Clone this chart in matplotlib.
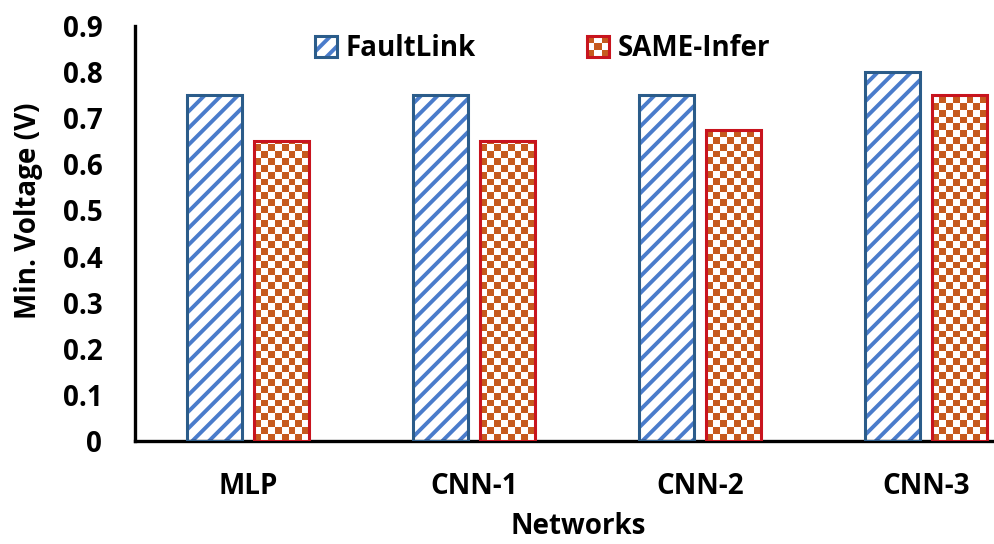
import numpy as np
import matplotlib
matplotlib.use("Agg")
import matplotlib.pyplot as plt
from matplotlib.patches import Patch, Rectangle
from matplotlib.colors import ListedColormap
from matplotlib.legend_handler import HandlerBase

categories = ["MLP", "CNN-1", "CNN-2", "CNN-3"]
faultlink = [0.75, 0.75, 0.75, 0.80]
same_infer = [0.65, 0.65, 0.675, 0.75]
series_names = ["FaultLink", "SAME-Infer"]
yticks = [0, 0.1, 0.2, 0.3, 0.4, 0.5, 0.6, 0.7, 0.8, 0.9]
ytick_labels = ["0", "0.1", "0.2", "0.3", "0.4", "0.5", "0.6", "0.7", "0.8", "0.9"]

FONT = ["Open Sans", "DejaVu Sans"]
plt.rcParams["font.family"] = FONT
plt.rcParams["font.weight"] = "bold"
plt.rcParams["hatch.linewidth"] = 2.8

STRIPE = "#4A7CCB"
BLUE_EDGE = "#2B5C8A"
RED_EDGE = "#C8141E"
ORANGE = "#C65A1E"
FS = 20

fig = plt.figure(figsize=(9.94, 5.44), dpi=100)
ax = fig.add_axes([135 / 994, 103 / 544, 859 / 994, 415 / 544])

x = np.arange(len(categories))
w = 0.243
off = 0.149

ax.set_xlim(-0.5, 3.30)
ax.set_ylim(0, 0.9)

# FaultLink: diagonal stripes
ax.bar(x - off, faultlink, w, facecolor="white", edgecolor=STRIPE, hatch="//", linewidth=0, zorder=2)
ax.bar(x - off, faultlink, w, facecolor="none", edgecolor=BLUE_EDGE, linewidth=2.2, zorder=4)

# SAME-Infer: checkerboard
bars2 = ax.bar(x + off, same_infer, w, facecolor="white", edgecolor="none", linewidth=0, zorder=2)
ax.bar(x + off, same_infer, w, facecolor="none", edgecolor=RED_EDGE, linewidth=2.2, zorder=4)

ax_w_px = 859
ax_h_px = 415
dx_per_px = (ax.get_xlim()[1] - ax.get_xlim()[0]) / ax_w_px
dy_per_px = (ax.get_ylim()[1] - ax.get_ylim()[0]) / ax_h_px
sq = 6.9
cmap = ListedColormap(["white", ORANGE])
for b in bars2:
    x0, y0 = b.get_x(), b.get_y()
    bw, bh = b.get_width(), b.get_height()
    nx = int(np.ceil(bw / (sq * dx_per_px)))
    ny = int(np.ceil(bh / (sq * dy_per_px)))
    ii, jj = np.indices((ny, nx))
    arr = ((ii + jj) % 2 == 0).astype(float)
    im = ax.imshow(arr, cmap=cmap, vmin=0, vmax=1, origin="lower", aspect="auto",
                   interpolation="nearest",
                   extent=[x0, x0 + nx * sq * dx_per_px, y0, y0 + ny * sq * dy_per_px],
                   zorder=3)
    im.set_clip_path(b)

ax.set_xlim(-0.5, 3.30)
ax.set_ylim(0, 0.9)

ax.set_xticks(x)
ax.set_xticklabels(categories, fontsize=FS, fontweight="bold")
ax.set_yticks(yticks)
ax.set_yticklabels(ytick_labels, fontsize=FS, fontweight="bold")
ax.tick_params(axis="both", length=0)
ax.tick_params(axis="y", pad=23.5)
ax.tick_params(axis="x", pad=22)

for s in ["top", "right"]:
    ax.spines[s].set_visible(False)
for s in ["left", "bottom"]:
    ax.spines[s].set_linewidth(2.4)
    ax.spines[s].set_color("black")

ax.set_ylabel("Min. Voltage (V)", fontsize=FS, fontweight="bold")
ax.yaxis.set_label_coords(-0.107, 0.554)
ax.set_xlabel("Networks", fontsize=FS, fontweight="bold")
ax.xaxis.set_label_coords(0.516, -0.172)


class HandlerChecker(HandlerBase):
    def create_artists(self, legend, orig_handle, xdescent, ydescent, width, height, fontsize, trans):
        arts = []
        s = min(width, height)
        x0 = -xdescent + (width - s) / 2
        y0 = -ydescent + (height - s) / 2
        n = 3
        c = s / n
        for i in range(n):
            for j in range(n):
                col = ORANGE if (i + j) % 2 == 0 else "white"
                arts.append(Rectangle((x0 + i * c, y0 + j * c), c, c, facecolor=col,
                                      edgecolor="none", transform=trans))
        arts.append(Rectangle((x0, y0), s, s, facecolor="none", edgecolor=RED_EDGE,
                              linewidth=2.2, transform=trans))
        return arts


class HandlerStripe(HandlerBase):
    def create_artists(self, legend, orig_handle, xdescent, ydescent, width, height, fontsize, trans):
        s = min(width, height)
        x0 = -xdescent + (width - s) / 2
        y0 = -ydescent + (height - s) / 2
        r1 = Rectangle((x0, y0), s, s, facecolor="white", edgecolor=STRIPE, hatch="//",
                       linewidth=0, transform=trans)
        r2 = Rectangle((x0, y0), s, s, facecolor="none", edgecolor=BLUE_EDGE,
                       linewidth=2.2, transform=trans)
        return [r1, r2]


h1 = Patch(label=series_names[0])
h2 = Patch(label=series_names[1])
leg = ax.legend([h1, h2], series_names, loc="center left", bbox_to_anchor=(0.2095, 0.945),
                ncol=2, frameon=False, handlelength=0.8, handleheight=0.8,
                handletextpad=0.3, columnspacing=4.0, borderpad=0, borderaxespad=0,
                handler_map={h1: HandlerStripe(), h2: HandlerChecker()},
                prop={"weight": "bold", "size": FS, "family": FONT})

fig.savefig("out.png", dpi=100)
